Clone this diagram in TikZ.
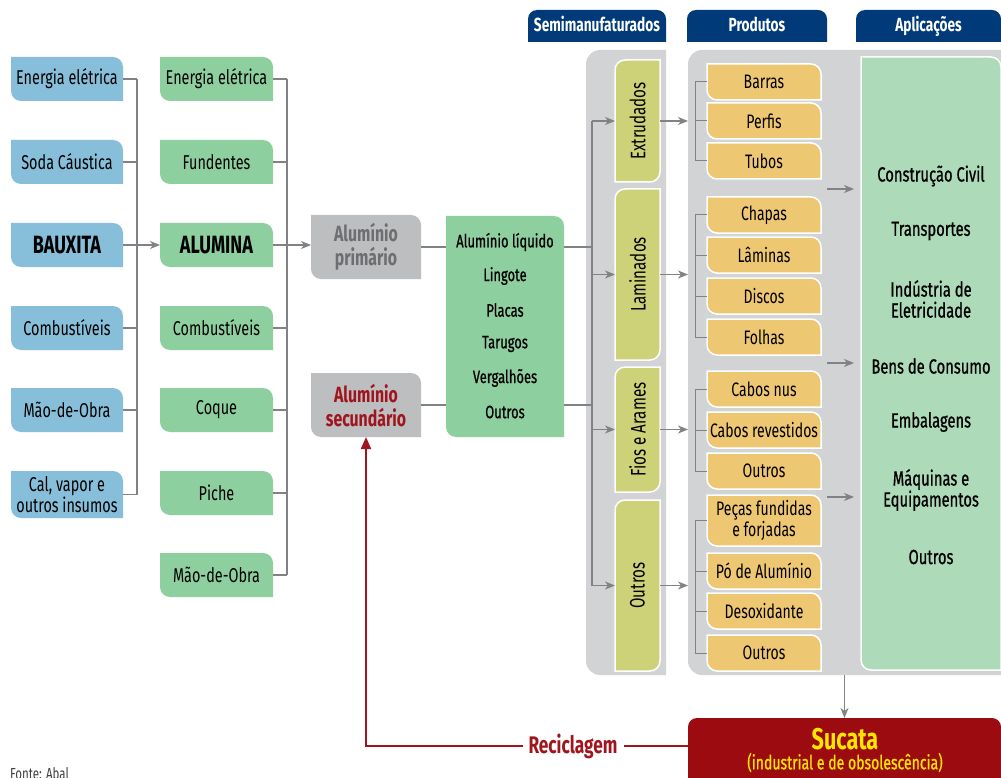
\documentclass[tikz,border=0pt]{standalone}
\usepackage{fontspec}
\setmainfont[FakeStretch=0.72]{Fira Sans}
\newfontfamily\medf[FakeStretch=0.72,FakeBold=0.8]{Fira Sans}
\usetikzlibrary{arrows.meta,backgrounds,calc}
\definecolor{bluef}{HTML}{87BFDA}
\definecolor{greenf}{HTML}{8ECF9F}
\definecolor{grayf}{HTML}{BCBEC0}
\definecolor{aptext}{HTML}{6D6E71}
\definecolor{recred}{HTML}{A0141E}
\definecolor{sucred}{HTML}{9B0B10}
\definecolor{panelgray}{HTML}{D1D3D4}
\definecolor{semif}{HTML}{CDD178}
\definecolor{prodf}{HTML}{EEC772}
\definecolor{appf}{HTML}{ADDBB9}
\definecolor{navy}{HTML}{003A78}
\definecolor{linegray}{HTML}{808285}
\definecolor{sucyellow}{HTML}{FFE600}
% rounded box: #1 node, #2 path style, #3 NE, #4 SE, #5 SW, #6 NW corner options
\newcommand\rbox[6]{%
  \begin{pgfonlayer}{background}
  \path[#2] (#1.north) [#3] -- (#1.north east) [#4] -- (#1.south east) [#5] -- (#1.south west) [#6] -- (#1.north west) [sharp corners] -- cycle;
  \end{pgfonlayer}}
\newcommand\trbl[2]{\rbox{#1}{#2}{rounded corners=10pt}{sharp corners}{rounded corners=10pt}{sharp corners}}
\newcommand\tlbr[2]{\rbox{#1}{#2}{sharp corners}{rounded corners=10pt}{sharp corners}{rounded corners=10pt}}
\newcommand\tltr[2]{\rbox{#1}{#2}{rounded corners=9pt}{sharp corners}{sharp corners}{rounded corners=9pt}}
\newcommand\lft[2]{\rbox{#1}{#2}{sharp corners}{sharp corners}{rounded corners=14pt}{rounded corners=14pt}}
\tikzset{
  blk/.style={inner sep=0pt, outer sep=0pt, draw=none},
  bx/.style={blk, align=center, text=black, font=\fontsize{20}{21}\selectfont},
  bluebx/.style={bx, minimum width=112pt, minimum height=44pt},
  grnbx/.style={bx, minimum width=113pt, minimum height=44pt},
  prodbx/.style={bx, minimum width=114pt, minimum height=36pt, font=\fontsize{19.5}{19}\selectfont},
  hdr/.style={blk, minimum height=32pt, text height=12pt, text depth=0pt, text=white, font=\bfseries\fontsize{19}{20}\selectfont},
  midtxt/.style={blk, font=\medf\fontsize{18}{19}\selectfont},
  apptxt/.style={blk, align=center, font=\medf\fontsize{20.5}{21}\selectfont},
  semitxt/.style={blk, rotate=90, font=\fontsize{21}{22}\selectfont},
  alubx/.style={bx, minimum width=110pt, minimum height=64pt, font=\bfseries\fontsize{22}{24}\selectfont},
  conn/.style={draw=linegray, line width=1.2pt},
  thin/.style={draw=linegray, line width=1pt},
  arr/.style={conn, -{Stealth[length=10pt,width=8pt,inset=3pt]}},
  redline/.style={draw=recred, line width=2pt},
  redarr/.style={redline, -{Triangle[length=12pt,width=10pt]}},
  whiteb/.style={draw=white, line width=1.5pt}
}
\begin{document}
\begin{tikzpicture}[x=1pt,y=-1pt]
\useasboundingbox (0,0) rectangle (1001,778);
\begin{pgfonlayer}{background}
\fill[white] (0,0) rectangle (1001,778);
\end{pgfonlayer}

% panels
\node[blk, minimum width=80pt, minimum height=625pt] (semipanel) at (626,362.5) {};
\lft{semipanel}{fill=panelgray}
\node[blk, minimum width=313pt, minimum height=625pt] (prodpanel) at (844.5,362.5) {};
\lft{prodpanel}{fill=panelgray}

% headers
\node[hdr, minimum width=138pt] (hsemi) at (597,26) {Semimanufaturados};
\tltr{hsemi}{fill=navy}
\node[hdr, minimum width=140pt] (hprod) at (757,26) {Produtos};
\tltr{hprod}{fill=navy}
\node[hdr, minimum width=145pt] (happ) at (928.5,26) {Aplicações};
\tltr{happ}{fill=navy}

% blue column
\node[bluebx] (b1) at (67,79) {Energia elétrica};
\node[bluebx] (b2) at (67,162) {Soda Cáustica};
\node[bluebx, font=\bfseries\fontsize{25}{26}\selectfont] (b3) at (67,245) {BAUXITA};
\node[bluebx] (b4) at (67,328) {Combustíveis};
\node[bluebx] (b5) at (67,410) {Mão-de-Obra};
\node[bluebx, minimum height=47pt] (b6) at (67,494.5) {Cal, vapor e\\outros insumos};
\foreach \n in {b1,b2,b3,b4,b5,b6} {\trbl{\n}{fill=bluef}}

% green column
\node[grnbx] (g1) at (216.5,79) {Energia elétrica};
\node[grnbx] (g2) at (216.5,162) {Fundentes};
\node[grnbx, font=\bfseries\fontsize{25}{26}\selectfont] (g3) at (216.5,245) {ALUMINA};
\node[grnbx] (g4) at (216.5,328) {Combustíveis};
\node[grnbx] (g5) at (216.5,410) {Coque};
\node[grnbx] (g6) at (216.5,493) {Piche};
\node[grnbx] (g7) at (216.5,575) {Mão-de-Obra};
\foreach \n in {g1,g2,g3,g4,g5,g6,g7} {\trbl{\n}{fill=greenf}}

% aluminio
\node[alubx, text=aptext] (ap) at (366,247) {Alumínio\\primário};
\trbl{ap}{fill=grayf}
\node[alubx, text=recred] (as) at (366,405) {Alumínio\\secundário};
\trbl{as}{fill=grayf}

% middle green
\node[blk, minimum width=118pt, minimum height=221pt] (mid) at (505,326.5) {};
\trbl{mid}{fill=greenf}
\node[midtxt] (m1) at (505,242) {Alumínio líquido};
\node[midtxt] (m2) at (505,276) {Lingote};
\node[midtxt] (m3) at (505,310) {Placas};
\node[midtxt] (m4) at (505,344) {Tarugos};
\node[midtxt] (m5) at (505,378) {Vergalhões};
\node[midtxt] (m6) at (505,412) {Outros};

% semimanufaturados
\node[blk, minimum width=45pt, minimum height=122pt] (e1) at (637.5,121) {};
\node[blk, minimum width=45pt, minimum height=171pt] (e2) at (637.5,274.5) {};
\node[blk, minimum width=45pt, minimum height=125pt] (e3) at (637.5,429.5) {};
\node[blk, minimum width=45pt, minimum height=171pt] (e4) at (637.5,585.5) {};
\foreach \n in {e1,e2,e3,e4} {\tlbr{\n}{fill=semif, whiteb}}
\node[semitxt] (e1t) at (e1) {Extrudados};
\node[semitxt] (e2t) at (e2) {Laminados};
\node[semitxt] (e3t) at (e3) {Fios e Arames};
\node[semitxt] (e4t) at (e4) {Outros};

% produtos
\node[prodbx] (p1) at (764,82) {Barras};
\node[prodbx] (p2) at (764,121) {Perfis};
\node[prodbx] (p3) at (764,161) {Tubos};
\node[prodbx] (p4) at (764,215) {Chapas};
\node[prodbx] (p5) at (764,255) {Lâminas};
\node[prodbx] (p6) at (764,296) {Discos};
\node[prodbx] (p7) at (764,337) {Folhas};
\node[prodbx] (p8) at (764,389) {Cabos nus};
\node[prodbx] (p9) at (764,430) {Cabos revestidos};
\node[prodbx] (p10) at (764,471) {Outros};
\node[prodbx, minimum height=51pt] (p11) at (764,520.5) {Peças fundidas\\e forjadas};
\node[prodbx] (p12) at (764,571) {Pó de Alumínio};
\node[prodbx] (p13) at (764,611) {Desoxidante};
\node[prodbx] (p14) at (764,653) {Outros};
\foreach \n in {p1,p2,p3,p4,p5,p6,p7,p8,p9,p10,p11,p12,p13,p14} {\trbl{\n}{fill=prodf, whiteb}}

% aplicacoes
\node[blk, minimum width=140pt, minimum height=613pt] (apps) at (931,363.5) {};
\trbl{apps}{fill=appf, whiteb}
\node[apptxt] (a1) at (931,176) {Construção Civil};
\node[apptxt] (a2) at (931,231) {Transportes};
\node[apptxt] (a3) at (931,299) {Indústria de\\Eletricidade};
\node[apptxt] (a4) at (931,366) {Bens de Consumo};
\node[apptxt] (a5) at (931,422) {Embalagens};
\node[apptxt] (a6) at (931,490) {Máquinas e\\Equipamentos};
\node[apptxt] (a7) at (931,557) {Outros};

% sucata
\node[blk, minimum width=313pt, minimum height=70pt] (suc) at (844.5,753) {};
\tltr{suc}{fill=sucred}
\node[blk, text=sucyellow, font=\bfseries\fontsize{30}{31}\selectfont] (s1) at (845,739) {Sucata};
\node[blk, text=sucyellow, font=\medf\fontsize{19.5}{20}\selectfont] (s2) at (845,762.5) {(industrial e de obsolescência)};

% connectors: left
\coordinate (busA) at (137,0);
\foreach \n in {b1,b2,b4,b5,b6} {\draw[conn] (\n.east) -- (\n.east -| busA);}
\draw[conn] (b1.east -| busA) -- (b6.east -| busA);
\draw[arr] (b3.east) -- (g3.west);
\coordinate (busB) at (287,0);
\foreach \n in {g1,g2,g4,g5,g6,g7} {\draw[conn] (\n.east) -- (\n.east -| busB);}
\draw[conn] (g1.east -| busB) -- (g7.east -| busB);
\draw[arr] (g3.east) -- (g3.east -| ap.west);

% aluminio to middle and semi
\coordinate (busC) at (592,0);
\draw[conn] (ap.east) -- (ap.east -| mid.west);
\draw[conn] (mid.east |- ap) -- (ap -| busC);
\draw[conn] (as.east) -- (as.east -| mid.west);
\draw[conn] (mid.east |- as) -- (as -| busC);
\draw[conn] (e1.west -| busC) -- (e4.west -| busC);
\foreach \n in {e1,e2,e3,e4} {\draw[arr] (\n.west -| busC) -- (\n.west);}
\foreach \n in {e1,e2,e3,e4} {\draw[arr] (\n.east) -- (\n.east -| prodpanel.west);}

% product brackets
\coordinate (brk) at (695,0);
\draw[thin] (p1.west -| brk) -- (p3.west -| brk);
\draw[thin] (p4.west -| brk) -- (p7.west -| brk);
\draw[thin] (p8.west -| brk) -- (p10.west -| brk);
\draw[thin] (p11.west -| brk) -- (p14.west -| brk);
\foreach \n in {p1,p2,p3,p4,p5,p6,p7,p8,p9,p10,p11,p12,p13,p14} {\draw[thin] (\n.west -| brk) -- (\n.west);}

% arrows to applications
\coordinate (q1) at (827,189);
\coordinate (q2) at (827,363);
\coordinate (q3) at (827,497);
\foreach \q in {q1,q2,q3} {\draw[arr, shorten >=7pt] (\q) -- (\q -| apps.west);}

% sucata
\draw[arr] (suc.north |- prodpanel.south) -- (suc.north);
\node[blk, inner sep=6pt, text=recred, font=\bfseries\fontsize{24}{25}\selectfont] (rec) at (573,746) {Reciclagem};
\draw[redline] (rec.east) -- (rec -| suc.west);
\draw[redarr] (rec.west) -| (as.south);

\node[anchor=north west, inner sep=0pt, text=black!75, font=\fontsize{16}{17}\selectfont] (fonte) at (10,767) {Fonte: Abal};
\end{tikzpicture}
\end{document}
